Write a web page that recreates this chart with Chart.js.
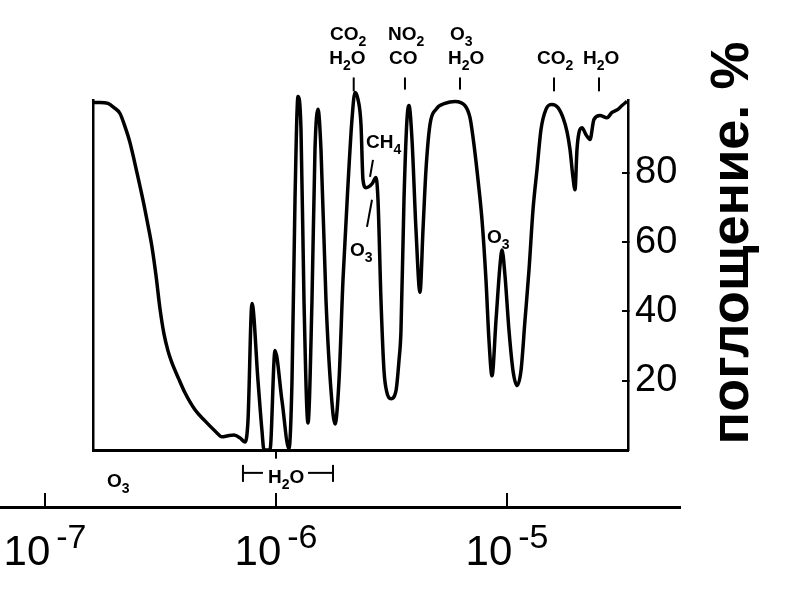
<!DOCTYPE html>
<html>
<head>
<meta charset="utf-8">
<script src="https://cdn.jsdelivr.net/npm/chart.js@4.4.1/dist/chart.umd.min.js"></script>
<style>
  body { margin: 0; background: #fff; }
  #wrap { position: relative; width: 794px; height: 595px; }
  canvas { position: absolute; left: 0; top: 0; }
</style>
</head>
<body>
<div id="wrap">
  <canvas id="axisCanvas" width="794" height="595"></canvas>
  <canvas id="mainCanvas" width="794" height="595"></canvas>
</div>
<script>
// wavelength in micrometres (axis labels are in metres), absorption in %
const wavelength = [0.1613, 0.1730, 0.1874, 0.1989, 0.2112, 0.2220, 0.2333, 0.2502, 0.2655, 0.2791,
  0.2905, 0.3023, 0.3146, 0.3274, 0.3408, 0.3529, 0.3788, 0.4037, 0.4460, 0.4928, 0.5444,
  0.5838, 0.6197, 0.6579, 0.6984, 0.7340, 0.7563, 0.7871, 0.8357, 0.8697, 0.8873,
  0.9419, 0.9901, 1.0617, 1.1384, 1.1730, 1.2086, 1.2452, 1.2830, 1.3219, 1.3757,
  1.4316, 1.4751, 1.5199, 1.5660, 1.6462, 1.7306, 1.8009, 1.8741, 1.9498, 2.0497,
  2.1330, 2.1979, 2.2646, 2.3335, 2.3801, 2.4526, 2.6035, 2.7094, 2.7643, 2.8480,
  2.9346, 3.0236, 3.1466, 3.3072, 3.4077, 3.4761, 3.5818, 3.6906, 3.7652, 3.8795,
  4.0370, 4.2013, 4.3290, 4.4605, 4.6416, 4.9275, 5.3901, 5.9555, 6.5793, 6.9164,
  7.1969, 7.4906, 7.7956, 8.1113, 8.3579, 8.6118, 8.9625, 9.3267, 9.5148, 9.8015,
  10.202, 10.617, 11.049, 11.498, 11.965, 12.452, 12.960, 13.487, 14.036, 14.751,
  15.660, 16.625, 17.477, 18.188, 18.741, 19.310, 19.700, 20.092, 20.497, 21.120,
  21.979, 22.872, 23.801, 25.265, 27.094, 28.480, 30.236, 31.466, 33.072]

const absorption = [100.3, 100.3, 100.0, 98.8, 97.1, 93.3, 88.7, 80.0, 72.2, 64.9,
  58.6, 50.4, 40.8, 33.5, 28.6, 25.5, 20.6, 16.5, 11.6, 8.4, 5.5,
  3.8, 4.1, 4.3, 3.5, 2.3, 8.4, 42.3, 20.0, 5.5, 0,
  0, 28.7, 14.2, 0.3, 20.0, 72.2, 102.0, 92.5, 43.2, 7.8,
  43.2, 86.7, 98.3, 86.7, 43.2, 17.1, 7.5, 20.0, 49.0, 76.5,
  95.4, 103.2, 101.2, 93.9, 78.0, 75.7, 76.8, 78.6, 72.2, 43.2,
  22.9, 16.5, 14.8, 17.1, 25.8, 34.5, 72.2, 95.4, 99.4, 89.6,
  63.5, 45.5, 63.5, 80.9, 93.9, 98.3, 100.0, 100.6, 99.4, 95.9,
  88.1, 78.0, 66.4, 49.0, 31.6, 21.4, 37.4, 53.3, 57.7, 50.4,
  34.5, 22.9, 18.6, 22.9, 37.4, 51.9, 69.3, 80.9, 92.5, 98.3,
  99.7, 98.8, 95.9, 91.9, 86.7, 78.6, 75.1, 86.7, 91.6, 93.0,
  91.0, 89.6, 95.4, 96.5, 95.9, 97.4, 98.3, 99.4, 100.6]

const yTicks = [20, 40, 60, 80]
const decadeTicks = [0.1, 1, 10]
const decadeExponents = ['-7', '-6', '-5']
const yTitle = 'поглощение. %'

// molecule labels: formula ("_" = subscript), wavelength, absorption level of baseline
const chemLabels = [
  { text: 'CO_2', x: 1.713, y: 118.3 },
  { text: 'H_2O', x: 1.70, y: 111.4 },
  { text: 'NO_2', x: 3.054, y: 118.3 },
  { text: 'CO', x: 3.085, y: 111.4 },
  { text: 'O_3', x: 5.665, y: 118.3 },
  { text: 'H_2O', x: 5.555, y: 111.4 },
  { text: 'CO_2', x: 13.49, y: 111.4 },
  { text: 'H_2O', x: 21.33, y: 111.4 },
  { text: 'CH_4', x: 2.453, y: 87.2 },
  { text: 'O_3', x: 2.091, y: 56.0 },
  { text: 'O_3', x: 8.19, y: 59.7 },
  { text: 'O_3', x: 0.1855, y: -10.7 },
  { text: 'H_2O', x: 0.9235, y: -9.5 }
]

// short guide strokes [x1, y1, x2, y2] in data units
const guideLines = [
  [2.17, 107.5, 2.17, 103.5],
  [3.617, 107.5, 3.617, 104.0],
  [6.26, 107.5, 6.26, 104.0],
  [15.98, 107.5, 15.98, 103.5],
  [25.02, 107.5, 25.02, 103.5],
  [2.630, 83.7, 2.553, 78.8],
  [2.477, 64.4, 2.6035, 72.2],
  [0.7195, -4.3, 0.7195, -9.2],
  [0.7195, -6.6, 0.8784, -6.6],
  [1.3757, -6.6, 1.765, -6.6],
  [1.765, -4.3, 1.765, -9.2],
  [1.0, -0.5, 1.0, -2.5]
]

const FONT = '"Liberation Sans", Arial, sans-serif'
Chart.defaults.font.family = FONT
Chart.defaults.color = '#000'

function drawFormula(ctx, str, x, y) {
  let cx = x
  ctx.textAlign = 'left'
  ctx.textBaseline = 'alphabetic'
  for (let i = 0; i < str.length; i++) {
    if (str[i] === '_') {
      i++
      ctx.font = 'bold 14px ' + FONT
      ctx.fillText(str[i], cx, y + 6)
      cx += ctx.measureText(str[i]).width
      continue
    }
    ctx.font = 'bold 19px ' + FONT
    ctx.fillText(str[i], cx, y)
    cx += ctx.measureText(str[i]).width
  }
}

const annotations = {
  id: 'annotations',
  afterDraw(chart) {
    const { ctx } = chart
    const x = chart.scales.x
    const y = chart.scales.y
    ctx.save()
    ctx.fillStyle = '#000'
    ctx.strokeStyle = '#000'
    chemLabels.forEach(l => {
      drawFormula(ctx, l.text, x.getPixelForValue(l.x), y.getPixelForValue(l.y))
    })
    ctx.lineWidth = 2
    guideLines.forEach(g => {
      ctx.beginPath()
      ctx.moveTo(x.getPixelForValue(g[0]), y.getPixelForValue(g[1]))
      ctx.lineTo(x.getPixelForValue(g[2]), y.getPixelForValue(g[3]))
      ctx.stroke()
    })
    // axis title, read from bottom to top
    ctx.translate(748, 243)
    ctx.rotate(-Math.PI / 2)
    ctx.font = 'bold 54px ' + FONT
    ctx.textAlign = 'center'
    ctx.textBaseline = 'alphabetic'
    ctx.fillText(yTitle, 0, 0)
    ctx.restore()
  }
}

const decadeLabels = {
  id: 'decadeLabels',
  afterDraw(chart) {
    const { ctx } = chart
    const x = chart.scales.x
    ctx.save()
    ctx.fillStyle = '#000'
    ctx.textAlign = 'left'
    ctx.textBaseline = 'alphabetic'
    decadeTicks.forEach((v, i) => {
      const px = x.getPixelForValue(v)
      ctx.font = '42px ' + FONT
      const w1 = ctx.measureText('10').width
      ctx.font = '34px ' + FONT
      const w2 = ctx.measureText(decadeExponents[i]).width
      const left = px - (w1 + 6 + w2) / 2
      ctx.font = '42px ' + FONT
      ctx.fillText('10', left, x.top + 58)
      ctx.font = '34px ' + FONT
      ctx.fillText(decadeExponents[i], left + w1 + 6, x.top + 41)
    })
    ctx.restore()
  }
}

// separate wavelength axis under the plot box
new Chart(document.getElementById('axisCanvas'), {
  type: 'scatter',
  data: { datasets: [{ data: [] }] },
  options: {
    responsive: false,
    animation: false,
    layout: { padding: { left: 0, right: 114, top: 10, bottom: 0 } },
    plugins: { legend: { display: false }, tooltip: { enabled: false } },
    scales: {
      x: {
        type: 'logarithmic',
        min: 0.06386,
        max: 56.09,
        afterBuildTicks: s => { s.ticks = decadeTicks.map(v => ({ value: v })) },
        ticks: { display: false },
        grid: { drawOnChartArea: false, drawTicks: true, tickLength: -14, color: '#000', lineWidth: 2 },
        border: { color: '#000', width: 3 },
        afterFit: s => { s.height = 88 }
      },
      y: { display: false }
    }
  },
  plugins: [decadeLabels]
})

new Chart(document.getElementById('mainCanvas'), {
  type: 'line',
  data: {
    datasets: [{
      data: wavelength.map((w, i) => ({ x: w, y: absorption[i] })),
      borderColor: '#000',
      borderWidth: 3.5,
      pointRadius: 0,
      cubicInterpolationMode: 'monotone',
      fill: false,
      clip: false
    }]
  },
  options: {
    responsive: false,
    animation: false,
    layout: { padding: { left: 93, top: 100, right: 0, bottom: 0 } },
    plugins: { legend: { display: false }, tooltip: { enabled: false } },
    scales: {
      x: {
        type: 'logarithmic',
        position: 'bottom',
        min: 0.16137,
        max: 33.41,
        ticks: { display: false },
        grid: { display: false },
        border: { display: true, color: '#000', width: 3 },
        afterFit: s => { s.height = 145 }
      },
      y: {
        position: 'right',
        min: 0,
        max: 101,
        afterBuildTicks: s => { s.ticks = yTicks.map(v => ({ value: v })) },
        ticks: { font: { size: 38 }, color: '#000', padding: 13 },
        grid: { drawOnChartArea: false, drawTicks: true, tickLength: -6, color: '#000', lineWidth: 2 },
        border: { color: '#000', width: 2.5 },
        afterFit: s => { s.width = 166 }
      },
      yLeft: {
        position: 'left',
        min: 0,
        max: 101,
        ticks: { display: false },
        grid: { display: false },
        border: { display: true, color: '#000', width: 2.5 },
        afterFit: s => { s.width = 0 }
      }
    }
  },
  plugins: [annotations]
})
</script>
</body>
</html>
